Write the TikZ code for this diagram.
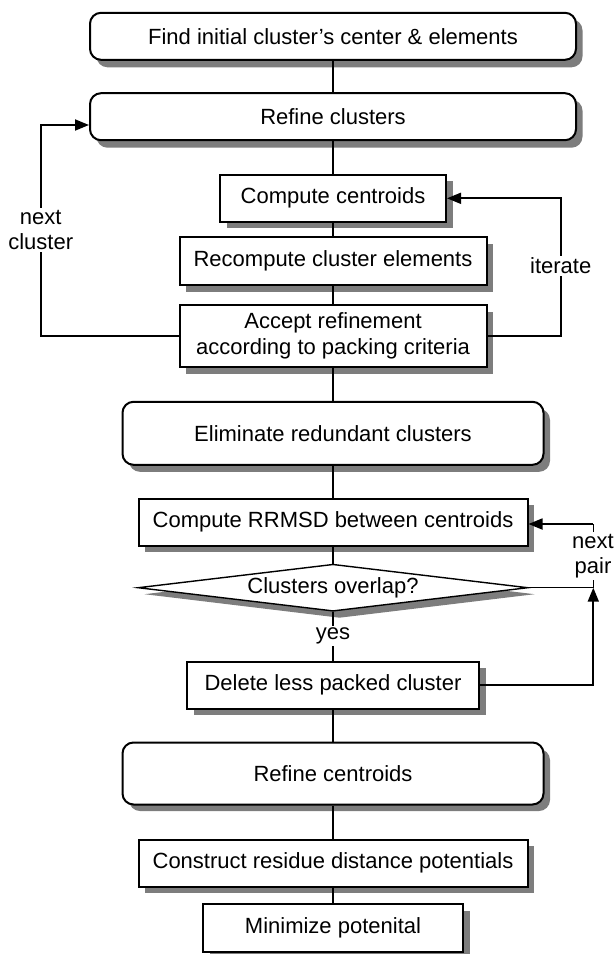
\documentclass[tikz,border=0pt]{standalone}
\usepackage{fontspec}
\setmainfont{Liberation Sans}
\usetikzlibrary{shapes.geometric,arrows.meta}
\definecolor{shadowgray}{RGB}{125,125,125}
\begin{document}
\begin{tikzpicture}[x=1pt,y=-1pt,
  font=\fontsize{22}{25.5}\selectfont,
  rbox/.style={draw,line width=2pt,rounded corners=11pt,fill=white,inner sep=0pt,align=center},
  sbox/.style={draw,line width=2pt,fill=white,inner sep=0pt,align=center},
  shd/.style={fill=shadowgray},
  conn/.style={line width=1.5pt},
  arr/.style={line width=1.8pt,-{Triangle[length=14pt,width=11pt]}},
  lbl/.style={fill=white,inner sep=2pt,align=center}
]
\useasboundingbox (0,0) rectangle (614,954);

% drop shadows (offset 6.5 right / 6.5 down)
\fill[shd,rounded corners=11pt] (96.5,19.3) rectangle (582.5,67.3);
\fill[shd,rounded corners=11pt] (96.5,99.7) rectangle (582.5,147.7);
\fill[shd,rounded corners=11pt] (129,408.8) rectangle (550,471.8);
\fill[shd,rounded corners=11pt] (129,749) rectangle (550,811);
\fill[shd] (226.5,181.3) rectangle (452.5,228.3);
\fill[shd] (186,243.5) rectangle (493,291.5);
\fill[shd] (186,311.5) rectangle (493,373.5);
\fill[shd] (145,505) rectangle (534,552);
\fill[shd] (193.5,668) rectangle (485.5,715);
\fill[shd] (145,846.2) rectangle (534,893.2);
\fill[shd] (209.5,910.5) rectangle (469.5,958);
\fill[shd] (339.5,570.7) -- (534.5,594.2) -- (339.5,617.7) -- (144.5,594.2) -- cycle;

\node[rbox,minimum width=486pt,minimum height=47pt] (find) at (333,36.3) {Find initial cluster’s center \& elements};
\node[rbox,minimum width=486pt,minimum height=47pt] (refcl) at (333,116.7) {Refine clusters};
\node[sbox,minimum width=226pt,minimum height=47pt] (compc) at (333,198.3) {Compute centroids};
\node[sbox,minimum width=307pt,minimum height=48pt] (recomp) at (333,261) {Recompute cluster elements};
\node[sbox,minimum width=307pt,minimum height=62pt] (accept) at (333,336) {Accept refinement\\according to packing criteria};
\node[rbox,minimum width=421pt,minimum height=63pt] (elim) at (333,433.3) {Eliminate redundant clusters};
\node[sbox,minimum width=389pt,minimum height=47pt] (rrmsd) at (333,522) {Compute RRMSD between centroids};
\node[diamond,draw,line width=1.4pt,fill=white,inner sep=0pt,aspect=8.3,minimum width=390pt,minimum height=47pt] (ovl) at (333,587.7) {Clusters overlap?};
\node[sbox,minimum width=292pt,minimum height=47pt] (del) at (333,685) {Delete less packed cluster};
\node[rbox,minimum width=421pt,minimum height=62pt] (refce) at (333,773.5) {Refine centroids};
\node[sbox,minimum width=389pt,minimum height=47pt] (constr) at (333,863.2) {Construct residue distance potentials};
\node[sbox,minimum width=260pt,minimum height=48pt] (mini) at (333,928) {Minimize potenital};

\draw[conn] (find) -- (refcl);
\draw[conn] (refcl) -- (compc);
\draw[conn] (compc) -- (recomp);
\draw[conn] (recomp) -- (accept);
\draw[conn] (accept) -- (elim);
\draw[conn] (elim) -- (rrmsd);
\draw[conn] (rrmsd) -- (ovl);
\draw[conn] (ovl) -- (del);
\draw[conn] (del) -- (refce);
\draw[conn] (refce) -- (constr);
\draw[conn] (constr) -- (mini);

\coordinate (nc1) at (40.7,336);
\coordinate (nc2) at (40.7,125);
\draw[arr] (accept.west) -- (nc1) -- (nc2) -- (refcl.west |- nc2);

\coordinate (it1) at (560.7,336);
\coordinate (it2) at (560.7,198.3);
\draw[arr] (accept.east) -- (it1) -- (it2) -- (compc.east);

\coordinate (np1) at (593.3,587.7);
\coordinate (np2) at (593.3,524);
\draw[conn] (ovl.east) -- (np1) -- (np2);
\draw[arr] (np2) -- (rrmsd.east |- np2);
\draw[arr] (del.east) -- (del.east -| np1) -- (np1);

\node[lbl] (lnc) at (40.7,230) {next\\cluster};
\node[lbl] (lit) at (560.7,266) {iterate};
\node[lbl] (lnp) at (593,556) {next\\pair};
\node[lbl] (lyes) at (333,636) {yes};
\end{tikzpicture}
\end{document}
